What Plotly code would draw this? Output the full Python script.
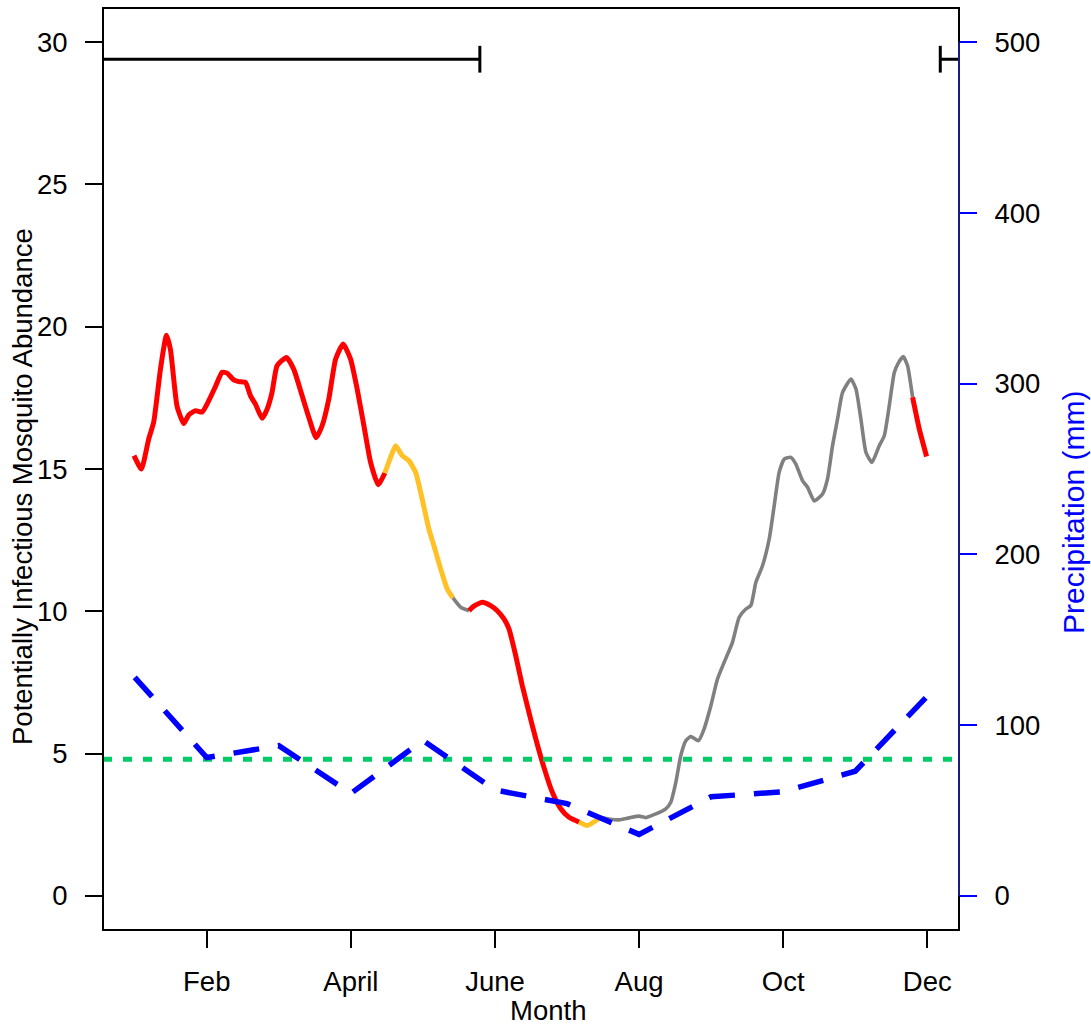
import plotly.graph_objects as go

# ---------------- data ----------------
month_ticks = [2, 4, 6, 8, 10, 12]
month_labels = ["Feb", "April", "June", "Aug", "Oct", "Dec"]
left_ticks = [0, 5, 10, 15, 20, 25, 30]
right_ticks = [0, 100, 200, 300, 400, 500]

red1_x = [0.99, 1.093, 1.194, 1.264, 1.357, 1.44, 1.496, 1.588, 1.681, 1.75, 1.843, 1.935, 2.028, 2.121,
          2.213, 2.282, 2.375, 2.444, 2.538, 2.607, 2.676, 2.768, 2.838, 2.907, 2.976, 3.107, 3.208, 3.324,
          3.417, 3.518, 3.601, 3.694, 3.788, 3.893, 3.996, 4.088, 4.181, 4.274, 4.379, 4.472]
red1_y = [15.47, 15.0, 16.05, 16.65, 18.5, 19.7, 19.2, 17.2, 16.6, 16.9, 17.05, 17.0, 17.4, 17.9,
          18.4, 18.37, 18.13, 18.07, 18.04, 17.57, 17.28, 16.78, 17.1, 17.7, 18.63, 18.92, 18.5, 17.57,
          16.81, 16.1, 16.52, 17.46, 18.86, 19.39, 18.86, 17.8, 16.52, 15.23, 14.45, 14.86]

orange1_x = [4.472, 4.55, 4.621, 4.713, 4.806, 4.899, 4.99, 5.083, 5.153, 5.246, 5.338, 5.417]
orange1_y = [14.86, 15.4, 15.82, 15.47, 15.29, 14.88, 13.94, 12.89, 12.3, 11.49, 10.78, 10.47]

gray1_x = [5.417, 5.524, 5.639]
gray1_y = [10.47, 10.14, 10.02]

red2_x = [5.639, 5.708, 5.824, 5.94, 6.032, 6.125, 6.194, 6.288, 6.379, 6.518, 6.657, 6.796, 6.913,
          7.028, 7.167]
red2_y = [10.02, 10.18, 10.32, 10.2, 10.02, 9.73, 9.38, 8.44, 7.39, 5.98, 4.7, 3.64, 3.06, 2.76, 2.59]

orange2_x = [7.167, 7.282, 7.468]
orange2_y = [2.59, 2.47, 2.76]

gray2_x = [7.468, 7.583, 7.722, 7.861, 8.0, 8.093, 8.232, 8.371, 8.44, 8.51, 8.579, 8.649, 8.718, 8.824,
           8.903, 8.996, 9.088, 9.181, 9.296, 9.389, 9.482, 9.551, 9.621, 9.713, 9.806, 9.875, 9.944,
           10.014, 10.107, 10.176, 10.268, 10.338, 10.431, 10.546, 10.615, 10.685, 10.754, 10.824, 10.94,
           11.01, 11.079, 11.149, 11.232, 11.333, 11.403, 11.472, 11.542, 11.601, 11.667, 11.726, 11.796]
gray2_y = [2.76, 2.7, 2.67, 2.74, 2.8, 2.75, 2.88, 3.06, 3.29, 3.99, 4.93, 5.45, 5.6, 5.45,
           5.87, 6.68, 7.62, 8.21, 8.91, 9.79, 10.08, 10.2, 11.02, 11.6, 12.54, 13.71, 14.88,
           15.35, 15.41, 15.17, 14.59, 14.36, 13.88, 14.12, 14.65, 15.82, 16.75, 17.69, 18.16,
           17.81, 16.75, 15.58, 15.23, 15.82, 16.17, 17.22, 18.39, 18.74, 18.95, 18.63, 17.52]

red3_x = [11.796, 11.889, 11.99]
red3_y = [17.52, 16.4, 15.44]

precip_month = [1, 2, 3, 4, 5, 6, 7, 8, 9, 10, 11, 12]
precip_mm = [128, 81, 88, 60, 91, 62, 54, 36, 58, 61, 73, 117]

threshold_y = 4.8

season_end = 5.79     # interval wraps around the year
season_start = 12.18
season_y = 29.4
cap_half = 0.47

# ---------------- styling ----------------
RED = "#FF0000"
ORANGE = "#FFC125"
GRAY = "#808080"
BLUE = "#0000FF"
GREEN = "#00CC66"
FONT = "Liberation Sans, Arial, Helvetica, sans-serif"
FS = 27.5

XR = [0.56, 12.44]
YR = [-1.2, 31.2]
Y2R = [-20, 520]

fig = go.Figure()

segments = [
    (red1_x, red1_y, RED, 5),
    (orange1_x, orange1_y, ORANGE, 5),
    (gray1_x, gray1_y, GRAY, 3.6),
    (red2_x, red2_y, RED, 5),
    (orange2_x, orange2_y, ORANGE, 5),
    (gray2_x, gray2_y, GRAY, 3.6),
    (red3_x, red3_y, RED, 5),
]
for sx, sy, col, w in segments:
    fig.add_trace(go.Scatter(x=sx, y=sy, mode="lines",
                             line=dict(color=col, width=w, shape="spline", smoothing=0.5),
                             showlegend=False, hoverinfo="skip"))

# precipitation (right axis)
fig.add_trace(go.Scatter(x=precip_month, y=precip_mm, mode="lines", yaxis="y2",
                         line=dict(color=BLUE, width=5.5, dash="26px,19px"),
                         showlegend=False, hoverinfo="skip"))

# threshold line
fig.add_trace(go.Scatter(x=XR, y=[threshold_y, threshold_y], mode="lines",
                         line=dict(color=GREEN, width=5, dash="9px,11px"),
                         showlegend=False, hoverinfo="skip"))

# season interval bars (wrap around)
fig.add_trace(go.Scatter(x=[0.0, season_end], y=[season_y, season_y], mode="lines",
                         line=dict(color="black", width=3), showlegend=False, hoverinfo="skip"))
fig.add_trace(go.Scatter(x=[season_start, 13.0], y=[season_y, season_y], mode="lines",
                         line=dict(color="black", width=3), showlegend=False, hoverinfo="skip"))
for cx in (season_end, season_start):
    fig.add_trace(go.Scatter(x=[cx, cx], y=[season_y - cap_half, season_y + cap_half], mode="lines",
                             line=dict(color="black", width=3), showlegend=False, hoverinfo="skip"))

fig.update_layout(
    width=1091, height=1025,
    margin=dict(l=103, r=132, t=8, b=95),
    paper_bgcolor="white", plot_bgcolor="white",
    font=dict(family=FONT, size=FS, color="black"),
    xaxis=dict(range=XR, tickvals=month_ticks, ticktext=month_labels,
               showgrid=False, zeroline=False, showline=False,
               ticks="outside", ticklen=17, tickwidth=1.5, tickcolor="black",
               ticklabelstandoff=10, tickfont=dict(family=FONT, size=FS)),
    yaxis=dict(range=YR, tickvals=left_ticks, showgrid=False, zeroline=False, showline=False,
               ticks="outside", ticklen=17, tickwidth=1.5, tickcolor="black",
               ticklabelstandoff=12, tickfont=dict(family=FONT, size=FS)),
    yaxis2=dict(range=Y2R, tickvals=right_ticks, overlaying="y", side="right",
                showgrid=False, zeroline=False, showline=False,
                ticks="outside", ticklen=17, tickwidth=1.5, tickcolor=BLUE,
                ticklabelstandoff=12, tickfont=dict(family=FONT, size=FS, color="black")),
    shapes=[
        dict(type="rect", xref="paper", yref="paper", x0=0, x1=1, y0=0, y1=1,
             line=dict(color="black", width=2), layer="above"),
        dict(type="line", xref="paper", yref="y2", x0=1, x1=1, y0=0, y1=500,
             line=dict(color="#1A1A80", width=2), layer="above"),
    ],
    annotations=[
        dict(text="Month", xref="paper", yref="paper", x=(548 - 103) / 856, y=(930 - 1010) / 922,
             showarrow=False, xanchor="center", yanchor="middle", font=dict(size=FS)),
        dict(text="Potentially Infectious Mosquito Abundance", xref="paper", yref="paper",
             x=(22 - 103) / 856, y=(930 - 487) / 922, textangle=-90,
             showarrow=False, xanchor="center", yanchor="middle", font=dict(size=FS)),
        dict(text="Precipitation (mm)", xref="paper", yref="paper",
             x=(1073 - 103) / 856, y=(930 - 513) / 922, textangle=-90,
             showarrow=False, xanchor="center", yanchor="middle", font=dict(size=30, color=BLUE)),
    ],
)

fig.write_html("out.html")
